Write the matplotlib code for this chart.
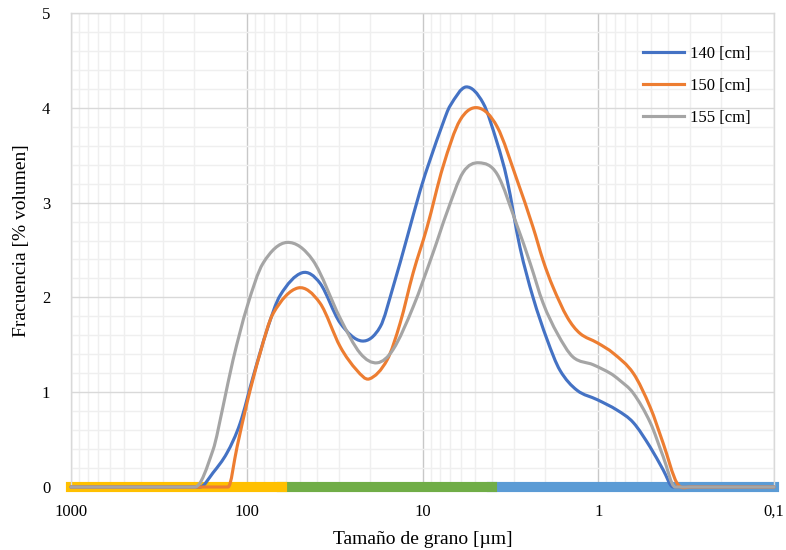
import numpy as np
import matplotlib
matplotlib.use("Agg")
import matplotlib.pyplot as plt
from matplotlib.path import Path
from matplotlib.patches import PathPatch
from matplotlib.lines import Line2D
from matplotlib.ticker import FixedLocator, FixedFormatter, LogLocator, MultipleLocator, NullFormatter

plt.rcParams['font.family'] = ['Liberation Serif', 'DejaVu Serif']

# Grain size [µm] and volume frequency [%] for each depth
size_140 = [1000, 400, 184.5, 155.6, 129.5, 109.2, 92.1, 76.6, 64.6, 48.4, 38.3, 29.4, 22.1,
            17.4, 14.7, 12.2, 10.3, 9.06, 7.64, 6.97, 5.65, 4.52, 3.76, 3.30, 2.79, 2.35, 1.95,
            1.65, 1.32, 1.01, 0.78, 0.632, 0.506, 0.427, 0.375, 0.2, 0.1]
freq_140 = [0, 0, 0, 0.15, 0.36, 0.67, 1.16, 1.66, 2.02, 2.26, 2.15, 1.73, 1.54,
            1.69, 2.11, 2.64, 3.13, 3.45, 3.84, 4.02, 4.22, 4.05, 3.63, 3.24, 2.53, 2.00, 1.55,
            1.23, 1.02, 0.92, 0.81, 0.68, 0.42, 0.18, 0, 0, 0]

size_150 = [1000, 400, 160, 127.7, 113.6, 99.6, 84.0, 70.8, 51.0, 38.3, 29.4, 23.6, 20.1,
            15.9, 13.4, 11.3, 9.42, 7.64, 6.11, 4.83, 3.76, 2.90, 2.35, 2.06, 1.81, 1.50,
            1.27, 1.01, 0.82, 0.632, 0.506, 0.427, 0.356, 0.3, 0.1]
freq_150 = [0, 0, 0, 0, 0.42, 0.89, 1.41, 1.83, 2.10, 1.94, 1.48, 1.23, 1.14,
            1.34, 1.73, 2.26, 2.74, 3.38, 3.87, 4.00, 3.80, 3.24, 2.74, 2.39, 2.11, 1.79,
            1.62, 1.52, 1.41, 1.20, 0.84, 0.46, 0.04, 0, 0]

size_155 = [1000, 400, 196.9, 155.6, 136.4, 119.7, 99.6, 80.8, 59.0, 42.0, 29.4, 22.6, 18.1,
            14.7, 11.3, 8.71, 7.25, 5.87, 4.77, 3.76, 2.90, 2.44, 2.06, 1.71, 1.39,
            1.07, 0.855, 0.76, 0.632, 0.506, 0.427, 0.365, 0.2, 0.1]
freq_155 = [0, 0, 0, 0.39, 0.85, 1.34, 1.90, 2.36, 2.58, 2.39, 1.78, 1.41, 1.31,
            1.45, 1.90, 2.47, 2.90, 3.32, 3.42, 3.30, 2.76, 2.36, 1.94, 1.62, 1.37,
            1.29, 1.20, 1.13, 0.99, 0.68, 0.32, 0, 0, 0]

series_labels = ['140 [cm]', '150 [cm]', '155 [cm]']
series_colors = ['#4472C4', '#ED7D31', '#A5A5A5']

# Textural classes along the size axis: sand, silt, clay
band_edges = [1000, 63, 4, 0.1]
band_colors = ['#FFC000', '#70AD47', '#5B9BD5']

x_ticks = [1000, 100, 10, 1, 0.1]
x_tick_labels = ['1000', '100', '10', '1', '0,1']


def smooth_path(x, y):
    """Smooth cubic Bezier curve through the points, built in log-x space."""
    u = np.log10(np.asarray(x, float))
    y = np.asarray(y, float)
    h = np.diff(u)
    s = np.diff(y) / h
    n = len(u)
    m = np.zeros(n)
    for i in range(1, n - 1):
        if s[i - 1] == 0 or s[i] == 0:
            continue  # keep flat stretches flat
        m[i] = (y[i + 1] - y[i - 1]) / (u[i + 1] - u[i - 1])
    verts = [(u[0], y[0])]
    codes = [Path.MOVETO]
    for i in range(n - 1):
        verts += [(u[i] + h[i] / 3, y[i] + m[i] * h[i] / 3),
                  (u[i + 1] - h[i] / 3, y[i + 1] - m[i + 1] * h[i] / 3),
                  (u[i + 1], y[i + 1])]
        codes += [Path.CURVE4] * 3
    verts = np.array(verts)
    verts[:, 0] = 10 ** verts[:, 0]
    return Path(verts, codes)


fig = plt.figure(figsize=(7.86, 5.5), dpi=100)
ax = fig.add_axes([71 / 786, 63 / 550, 703 / 786, 474 / 550])

ax.set_xscale('log')
ax.set_xlim(1000, 0.1)
ax.set_ylim(0, 5)

# grid
ax.xaxis.set_major_locator(FixedLocator(x_ticks))
ax.xaxis.set_major_formatter(FixedFormatter(x_tick_labels))
ax.xaxis.set_minor_locator(LogLocator(base=10, subs=np.arange(2, 10), numticks=20))
ax.xaxis.set_minor_formatter(NullFormatter())
ax.yaxis.set_major_locator(MultipleLocator(1))
ax.yaxis.set_minor_locator(MultipleLocator(0.2))
ax.set_axisbelow(True)
ax.grid(which='minor', axis='both', color='#efefef', lw=1.0)
ax.grid(which='major', axis='y', color='#d9d9d9', lw=1.0)
ax.grid(which='major', axis='x', color='#c8c8c8', lw=1.0)

ax.tick_params(which='both', length=0)
ax.tick_params(axis='x', labelsize=12, pad=12)
ax.tick_params(axis='y', labelsize=12, pad=15)

for side in ['left', 'top', 'right']:
    ax.spines[side].set_color('#d9d9d9')
    ax.spines[side].set_linewidth(1.0)
ax.spines['bottom'].set_visible(False)

# class band along the base
for k in range(len(band_colors) - 1, -1, -1):
    ax.plot([band_edges[k], band_edges[k + 1]], [0, 0], color=band_colors[k], lw=7.3,
            solid_capstyle='projecting', clip_on=False, zorder=2.2 + 0.1 * (len(band_colors) - k))

# distributions
handles = []
for xs, ys, col, lab in zip([size_140, size_150, size_155],
                            [freq_140, freq_150, freq_155],
                            series_colors, series_labels):
    patch = PathPatch(smooth_path(xs, ys), fill=False, edgecolor=col, lw=2.25,
                      capstyle='round', joinstyle='round', zorder=3, clip_on=False)
    ax.add_patch(patch)
    handles.append(Line2D([], [], color=col, lw=2.25, label=lab))

ax.legend(handles=handles, loc='upper left', bbox_to_anchor=(643 / 786, 1 - 46 / 550),
          bbox_transform=fig.transFigure, frameon=False, fontsize=12,
          handlelength=2.45, handletextpad=0.35, labelspacing=0.95, borderpad=0,
          borderaxespad=0)

ax.set_xlabel('Tamaño de grano [µm]', fontsize=14, labelpad=8)
ax.set_ylabel('Fracuencia [% volumen]', fontsize=14)
ax.yaxis.set_label_coords((30 - 71) / 703, 0.52)

fig.savefig('out.png', dpi=100)
